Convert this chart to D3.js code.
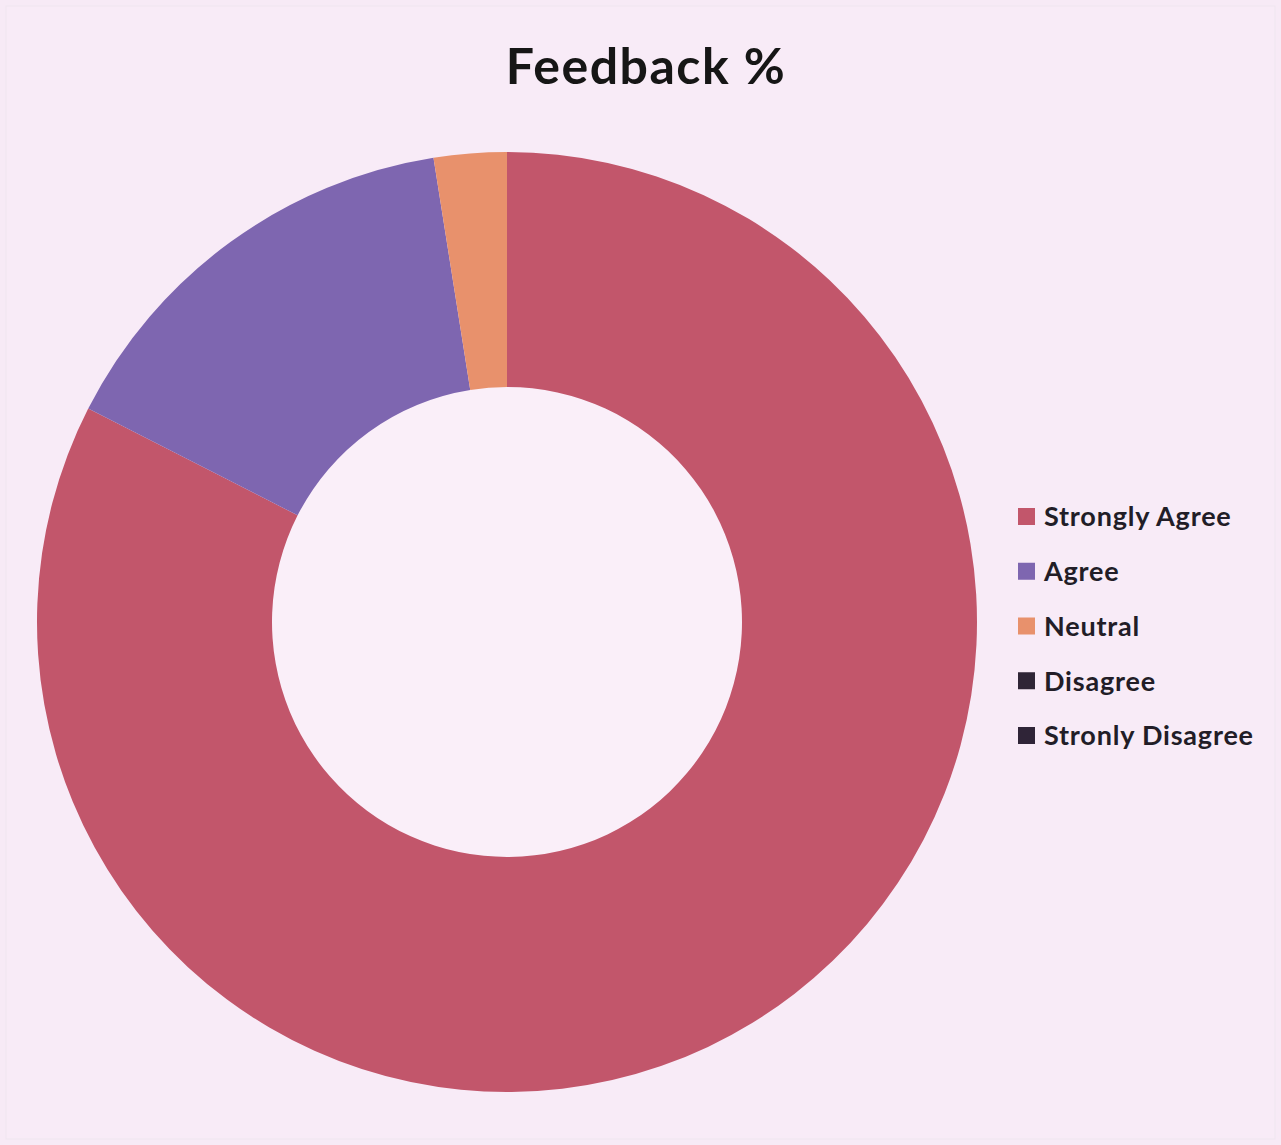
<!DOCTYPE html>
<html><head><meta charset="utf-8">
<script src="https://cdn.jsdelivr.net/npm/d3@7"></script>
<style>html,body{margin:0;padding:0;background:#f7eaf6;}</style>
</head><body>
<svg id="chart" width="1281" height="1145"></svg>
<script>
const categories = ["Strongly Agree","Agree","Neutral","Disagree","Stronly Disagree"];
const values = [82.5, 15, 2.5, 0, 0];
const colors = ["#c2566b","#7e66b0","#e8916c","#2f2536","#2f2437"];

const svg = d3.select("#chart");
svg.append("rect").attr("width",1281).attr("height",1145).attr("fill","#f7eaf6");
svg.append("rect").attr("x",6).attr("y",6).attr("width",1269).attr("height",1133)
  .attr("fill","#f8ebf7").attr("stroke","#efe6ef");

svg.append("text").attr("x",646).attr("y",84).attr("text-anchor","middle")
  .attr("font-family","Lato, 'Open Sans', sans-serif").attr("font-weight","bold")
  .attr("font-size",50).attr("letter-spacing",1.5).attr("fill","#161616").text("Feedback %");

const cx = 507, cy = 622, rO = 470, rI = 235;
const pie = d3.pie().sort(null).value(d => d.v);
const arcs = pie(categories.map((c,i)=>({c, v: values[i], col: colors[i]})));
const arc = d3.arc().innerRadius(rI).outerRadius(rO);
const g = svg.append("g").attr("transform",`translate(${cx},${cy})`);
g.append("circle").attr("r",rI).attr("fill","#faeff9");
g.selectAll("path").data(arcs).join("path")
  .attr("d",arc).attr("fill",d=>d.data.col);

const leg = svg.append("g");
const legY = d3.scalePoint().domain(categories).range([517,736]);
const items = leg.selectAll("g").data(categories).join("g")
  .attr("transform",d=>`translate(1018,${legY(d)})`);
items.append("rect").attr("x",0).attr("y",-9).attr("width",17).attr("height",17)
  .attr("fill",(d,i)=>colors[i]);
items.append("text").attr("x",26).attr("y",0).attr("dy","0.35em")
  .attr("font-family","Lato, 'Open Sans', sans-serif").attr("font-weight","bold")
  .attr("font-size",27).attr("letter-spacing",0.8).attr("fill","#221d27").text(d=>d);
</script>
</body></html>
